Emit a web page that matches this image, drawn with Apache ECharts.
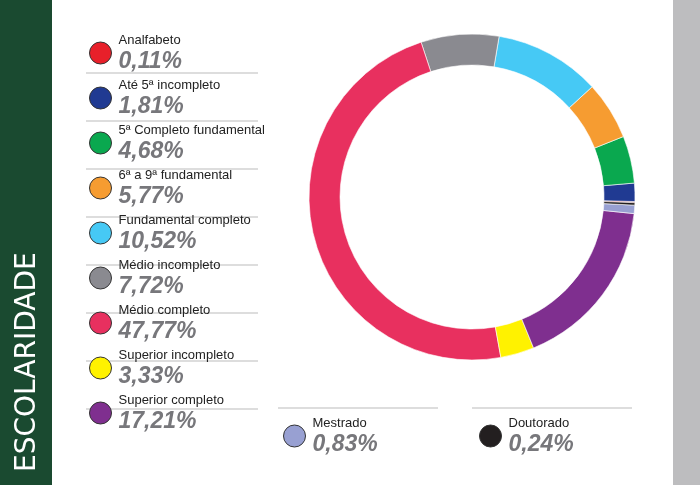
<!DOCTYPE html>
<html><head><meta charset="utf-8">
<script src="https://cdn.jsdelivr.net/npm/echarts@6/dist/echarts.min.js"></script>
<style>html,body{margin:0;padding:0;background:#fff}#c{width:700px;height:485px}</style>
</head><body><div id="c"></div>
<script>
var categories = ['Analfabeto', 'Até 5ª incompleto', '5ª Completo fundamental', '6ª a 9ª fundamental',
	'Fundamental completo', 'Médio incompleto', 'Médio completo', 'Superior incompleto',
	'Superior completo', 'Mestrado', 'Doutorado'];
var values = [0.11, 1.81, 4.68, 5.77, 10.52, 7.72, 47.77, 3.33, 17.21, 0.83, 0.24];
var colors = ['#e8202a', '#203a92', '#0aa84f', '#f69c31', '#46c9f5', '#8a8a90', '#e8305f',
	'#fff200', '#7f2f8f', '#98a0d2', '#231f20'];

function pct(v) { return v.toFixed(2).replace('.', ',') + '%'; }
var lookup = {};
categories.forEach(function (c, i) { lookup[c] = values[i]; });

var font = '"Liberation Sans", sans-serif';
var rich = {
	n: { fontSize: 13, lineHeight: 17, color: '#222', fontFamily: font },
	v: { fontSize: 23, lineHeight: 25, color: '#77777b', fontWeight: 'bold', fontStyle: 'italic', fontFamily: font }
};
function legendAt(data, left, top) {
	return {
		data: data, orient: 'vertical', left: left, top: top,
		icon: 'circle', itemWidth: 22, itemHeight: 22, itemGap: 6,
		itemStyle: { borderColor: '#333', borderWidth: 1 },
		selectedMode: false,
		formatter: function (name) { return '{n|' + name + '}\n{v|' + pct(lookup[name]) + '}'; },
		textStyle: { rich: rich, padding: [0, 0, 0, 2] }
	};
}

// separator lines under legend rows
var lines = [];
for (var i = 0; i < 8; i++) {
	lines.push({ type: 'line', shape: { x1: 86, y1: 73 + i * 48, x2: 258, y2: 73 + i * 48 }, style: { stroke: '#bbb', lineWidth: 1 } });
}
lines.push({ type: 'line', shape: { x1: 278, y1: 408, x2: 438, y2: 408 }, style: { stroke: '#bbb', lineWidth: 1 } });
lines.push({ type: 'line', shape: { x1: 472, y1: 408, x2: 632, y2: 408 }, style: { stroke: '#bbb', lineWidth: 1 } });

var chart = echarts.init(document.getElementById('c'));
chart.setOption({
	animation: false,
	color: colors,
	legend: [
		legendAt(categories.slice(0, 9), 84, 29),
		legendAt(['Mestrado'], 278, 412),
		legendAt(['Doutorado'], 474, 412)
	],
	graphic: [
		{ type: 'rect', shape: { x: 0, y: 0, width: 52, height: 485 }, style: { fill: '#1a4a30' } },
		{ type: 'rect', shape: { x: 673, y: 0, width: 27, height: 485 }, style: { fill: '#bdbdbf' } },
		{ type: 'text', x: 28, y: 472, rotation: Math.PI / 2,
			style: { text: 'ESCOLARIDADE', fill: '#fff', font: '28px "DejaVu Sans"', align: 'left', verticalAlign: 'middle' } }
	].concat(lines),
	series: [{
		type: 'pie',
		center: [472, 197],
		radius: [132, 163],
		clockwise: false,
		startAngle: -2,
		label: { show: false },
		itemStyle: { borderColor: '#fff', borderWidth: 0.6 },
		data: categories.map(function (c, i) { return { name: c, value: values[i] }; })
	}]
});
</script></body></html>
